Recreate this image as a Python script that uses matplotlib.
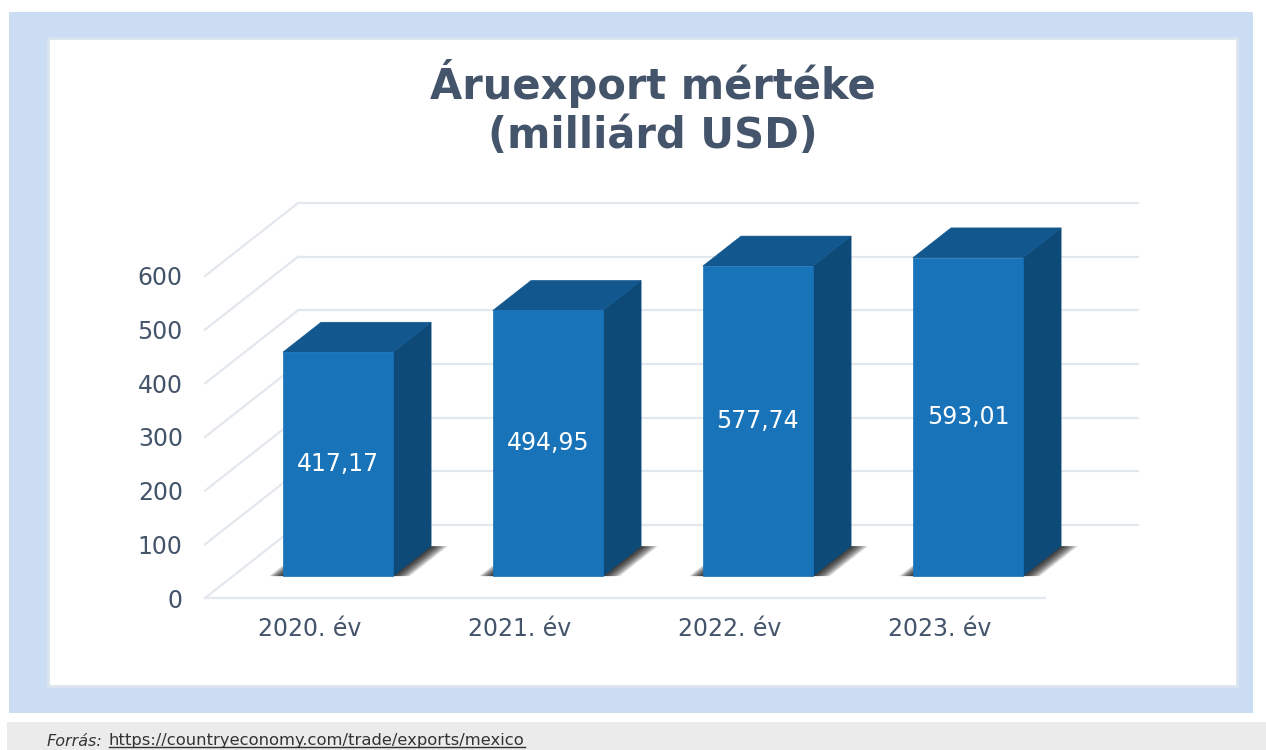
import numpy as np
import matplotlib
matplotlib.use("Agg")
import matplotlib.pyplot as plt
from matplotlib.patches import Rectangle, Polygon
from matplotlib.lines import Line2D

# ---------- data ----------
categories = ["2020. év", "2021. év", "2022. év", "2023. év"]
values = [417.17, 494.95, 577.74, 593.01]
value_labels = ["417,17", "494,95", "577,74", "593,01"]
yticks = [0, 100, 200, 300, 400, 500, 600]

TITLE = "Áruexport mértéke\n(milliárd USD)"
SOURCE_LABEL = "Forrás:"
SOURCE_URL = "https://countryeconomy.com/trade/exports/mexico"

# ---------- style ----------
W, H = 1266, 750
TXT = "#44546a"
GRID = "#e3e7ee"
FRONT = "#1873b9"
TOP = "#12588f"
SIDE = "#0e4a78"

DX, DY = 0.443, 136.0        # depth offset (category units, value units)
D0, D1 = 0.30, 0.71          # bar depth range
BW = 0.524                   # bar width

fig = plt.figure(figsize=(W / 100, H / 100), dpi=100)
fig.patch.set_facecolor("white")

def px_rect(x0, y0, x1, y1, z, **kw):
    # rectangle in pixel coords measured from the top-left
    fig.patches.append(Rectangle((x0 / W, 1 - y1 / H), (x1 - x0) / W, (y1 - y0) / H,
                                 transform=fig.transFigure, figure=fig, zorder=z, **kw))

px_rect(9, 12, 1253, 713, -3, facecolor="#cbddf2", edgecolor="none")
px_rect(48, 38, 1237, 686, -2, facecolor="white", edgecolor="#dbe4ef", linewidth=2)
px_rect(7, 722, 1266, 750, -3, facecolor="#ebebeb", edgecolor="none")

ax = fig.add_axes([205 / W, (H - 598) / H, 840 / W, (598 - 276) / H])
ax.set_zorder(2)
ax.set_xlim(-0.5, len(categories) - 0.5)
ax.set_ylim(0, 600)
ax.patch.set_visible(False)
for s in ax.spines.values():
    s.set_visible(False)

ax.set_yticks(yticks)
ax.set_yticklabels([str(t) for t in yticks])
ax.set_xticks(range(len(categories)))
ax.set_xticklabels(categories)
ax.tick_params(axis="y", length=0, pad=16, labelsize=17, labelcolor=TXT)
ax.tick_params(axis="x", length=0, pad=14, labelsize=17, labelcolor=TXT)

x_lo, x_hi = -0.5, len(categories) - 0.5

# back wall grid + left wall diagonals
for t in yticks:
    ax.plot([x_lo + DX, x_hi + DX], [t + DY, t + DY], color=GRID, lw=1.6,
            clip_on=False, zorder=2)
    ax.plot([x_lo, x_lo + DX], [t, t + DY], color=GRID, lw=1.6,
            clip_on=False, zorder=2)
# front floor edge
ax.plot([x_lo, x_hi], [0, 0], color=GRID, lw=1.6, clip_on=False, zorder=2)

# bars
for i, (v, lab) in enumerate(zip(values, value_labels)):
    xl, xr = i - BW / 2, i + BW / 2
    # soft shadow on the floor
    for k in range(10):
        el = 0.0065 * (k + 1)
        er = 0.0080 * (k + 1)
        pts = [(xl - el + D0 * DX, D0 * DY), (xr + er + D0 * DX, D0 * DY),
               (xr + er + D1 * DX, D1 * DY), (xl - el + D1 * DX, D1 * DY)]
        ax.add_patch(Polygon(pts, closed=True, facecolor="black", alpha=0.13,
                             edgecolor="none", clip_on=False, zorder=3))
    # front face
    front = [(xl + D0 * DX, D0 * DY), (xr + D0 * DX, D0 * DY),
             (xr + D0 * DX, v + D0 * DY), (xl + D0 * DX, v + D0 * DY)]
    # side face
    side = [(xr + D0 * DX, D0 * DY), (xr + D1 * DX, D1 * DY),
            (xr + D1 * DX, v + D1 * DY), (xr + D0 * DX, v + D0 * DY)]
    # top face
    top = [(xl + D0 * DX, v + D0 * DY), (xr + D0 * DX, v + D0 * DY),
           (xr + D1 * DX, v + D1 * DY), (xl + D1 * DX, v + D1 * DY)]
    for pts, c in [(side, SIDE), (top, TOP), (front, FRONT)]:
        ax.add_patch(Polygon(pts, closed=True, facecolor=c, edgecolor=c, lw=0.5,
                             clip_on=False, zorder=4))
    ax.text(i + D0 * DX, v / 2 + D0 * DY, lab, color="white", fontsize=17,
            ha="center", va="center", zorder=5)

# title
fig.text(653 / W, 1 - 108 / H, TITLE, ha="center", va="center", fontsize=30,
         fontweight="heavy", color=TXT, linespacing=1.2)

# source footer
t1 = fig.text(47 / W, 1 - 741 / H, SOURCE_LABEL, ha="left", va="center",
              fontsize=11.5, style="italic", color="#333333")
t2 = fig.text(109 / W, 1 - 741 / H, SOURCE_URL, ha="left", va="center",
              fontsize=11.8, color="#333333")
r = fig.canvas.get_renderer()
bb = t2.get_window_extent(r)
inv = fig.transFigure.inverted()
(ux0, uy), (ux1, _) = inv.transform([(bb.x0, bb.y0 + 1.5), (bb.x1, bb.y0 + 1.5)])
fig.add_artist(Line2D([ux0, ux1], [uy, uy], transform=fig.transFigure,
                      color="#333333", lw=1))

fig.savefig("out.png", dpi=100)
